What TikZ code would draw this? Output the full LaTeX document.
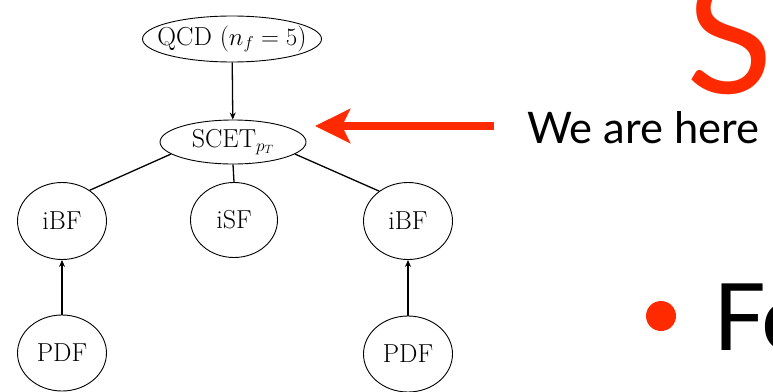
\documentclass[tikz,border=0pt]{standalone}
\usepackage{fontspec}
\newfontfamily\slidefont{Lato}
\usetikzlibrary{shapes.geometric,arrows.meta}
\definecolor{slidered}{RGB}{255,42,0}
\newcommand{\fixw}[1]{\makebox[0pt][c]{#1}}
\begin{document}
\begin{tikzpicture}[x=1pt,y=-1pt,
  ell/.style={draw,ellipse,line width=0.9pt,inner sep=0pt,font=\fontsize{26}{30}\selectfont},
  conn/.style={line width=1.3pt},
  arr/.style={line width=1.3pt,-{Stealth[length=7pt,width=6pt]}}]
\useasboundingbox (0,0) rectangle (773,391);
\clip (0,0) rectangle (773,391);
\node[ell,minimum width=179pt,minimum height=46pt] (qcd) at (232,39) {\fixw{QCD ($n_f=5$)}};
\node[ell,minimum width=146pt,minimum height=44pt] (scet) at (233,142) {\fixw{SCET$_{p_T}$}};
\node[ell,minimum width=89pt,minimum height=77pt] (ibfl) at (62,221) {\fixw{iBF}};
\node[ell,minimum width=87pt,minimum height=75pt] (isf) at (234,220) {\fixw{iSF}};
\node[ell,minimum width=89pt,minimum height=77pt] (ibfr) at (408,221) {\fixw{iBF}};
\node[ell,minimum width=89pt,minimum height=76pt] (pdfl) at (62,353) {\fixw{PDF}};
\node[ell,minimum width=89pt,minimum height=76pt] (pdfr) at (408,354) {\fixw{PDF}};
\draw[arr] (qcd) -- (scet);
\draw[conn] (scet.191) -- (ibfl.48);
\draw[conn] (scet.south) -- (isf.north);
\draw[conn] (scet.349) -- (ibfr.134);
\draw[arr] (pdfl) -- (ibfl);
\draw[arr] (pdfr) -- (ibfr);
\coordinate (rs) at (494,126);
\coordinate (re) at (315,126);
\draw[slidered,line width=8pt,-{Stealth[length=35pt,width=34pt,inset=8pt]}] (rs) -- (re);
\node[anchor=base west,inner sep=0pt,font=\slidefont\fontsize{43.5}{48}\selectfont] (here) at (527,143) {We are here};
\node[anchor=base west,inner sep=0pt,text=slidered,font=\slidefont\fontsize{160}{160}\selectfont] (title) at (686,93) {S};
\fill[slidered] (661,316) circle (15pt);
\node[anchor=base west,inner sep=0pt,font=\slidefont\fontsize{93}{100}\selectfont] (fo) at (713,350) {Fo};
\end{tikzpicture}
\end{document}
